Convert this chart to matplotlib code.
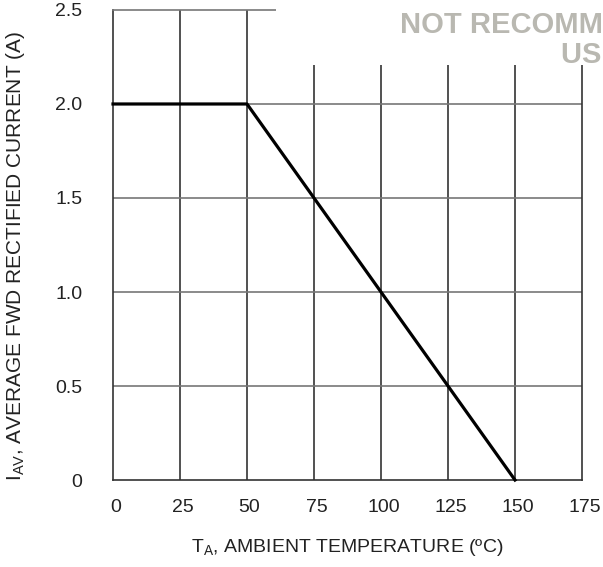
import matplotlib
matplotlib.use("Agg")
import matplotlib.pyplot as plt
from matplotlib.patches import Rectangle
from matplotlib.transforms import ScaledTranslation

# derating curve: average forward rectified current vs ambient temperature
temp_c = [0, 50, 150]
current_a = [2.0, 2.0, 0.0]

x_ticks = [0, 25, 50, 75, 100, 125, 150, 175]
y_ticks = [0, 0.5, 1.0, 1.5, 2.0, 2.5]
y_tick_labels = ["0", "0.5", "1.0", "1.5", "2.0", "2.5"]

plt.rcParams["font.family"] = ["Liberation Sans", "DejaVu Sans"]

fig = plt.figure(figsize=(6.03, 5.67), dpi=100)
ax = fig.add_axes([0.1874, 0.1534, 0.7778, 0.829])
ax.set_xlim(0, 175)
ax.set_ylim(0, 2.5)

# grid: vertical lines dark, horizontal lines gray
for x in x_ticks[1:-1]:
    ax.axvline(x, color="#333333", lw=1.2, zorder=1)
for y in y_ticks[1:-1]:
    ax.axhline(y, color="#777777", lw=1.2, zorder=1)

for side in ["left", "bottom", "right"]:
    ax.spines[side].set_color("#333333")
    ax.spines[side].set_linewidth(1.2)
ax.spines["top"].set_color("#777777")
ax.spines["top"].set_linewidth(1.2)

ax.plot(temp_c, current_a, color="black", lw=2.3, zorder=4, clip_on=False)

ax.set_xticks(x_ticks)
ax.set_xticklabels([str(t) for t in x_ticks])
ax.set_yticks(y_ticks)
ax.set_yticklabels(y_tick_labels)
ax.tick_params(axis="both", length=0, labelsize=14, colors="#222222")
ax.tick_params(axis="x", pad=14)
ax.tick_params(axis="y", pad=22)
offset = ScaledTranslation(0.025, 0, fig.dpi_scale_trans)
for lbl in ax.get_xticklabels():
    lbl.set_transform(lbl.get_transform() + offset)

ax.set_xlabel("T$_\\mathregular{A}$, AMBIENT TEMPERATURE (ºC)", fontsize=14,
              color="#222222", labelpad=15)
ax.set_ylabel("I$_\\mathregular{AV}$, AVERAGE FWD RECTIFIED CURRENT (A)", fontsize=15,
              color="#222222")
ax.yaxis.set_label_coords(-0.183, 0.477)

# white block over the upper right corner where the watermark sits
ax.add_patch(Rectangle((61, 2.207), 130, 0.5, facecolor="white", edgecolor="none",
                       zorder=5, clip_on=False))

fig.text(400 / 603, 1 - 33 / 567, "NOT RECOMMENDED FOR NEW DESIGN", fontsize=21,
         fontweight="bold", color="#b9b8b1", ha="left", va="baseline", zorder=6)
fig.text(561 / 603, 1 - 63 / 567, "USE ALTERNATE PART", fontsize=21,
         fontweight="bold", color="#b9b8b1", ha="left", va="baseline", zorder=6)

fig.savefig("out.png", dpi=100)
